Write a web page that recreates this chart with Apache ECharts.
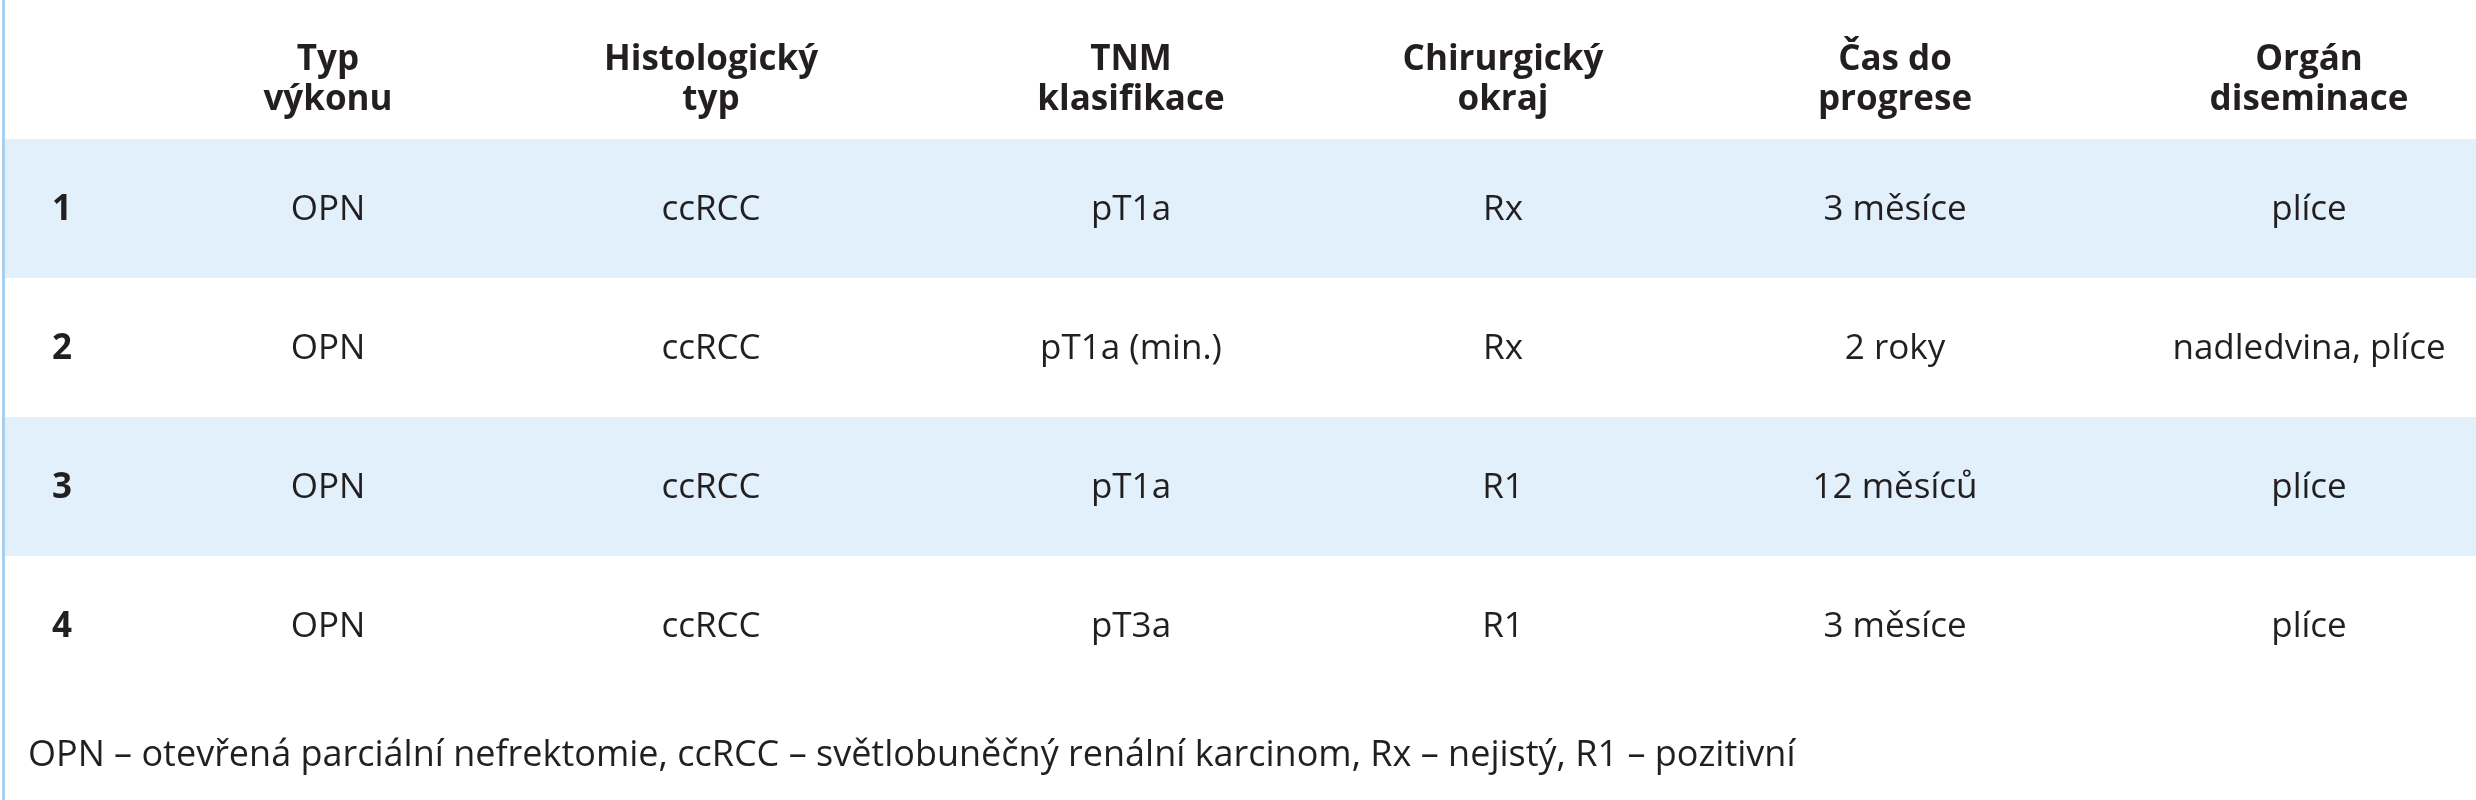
<!DOCTYPE html>
<html><head><meta charset="utf-8">
<script src="https://cdn.jsdelivr.net/npm/echarts@6/dist/echarts.min.js"></script>
<style>html,body{margin:0;padding:0;background:#fff}#c{width:2476px;height:800px}</style>
</head><body><div id="c"></div>
<script>
const headers = ["", "Typ\nvýkonu", "Histologický\ntyp", "TNM\nklasifikace", "Chirurgický\nokraj", "Čas do\nprogrese", "Orgán\ndiseminace"];
const rowIds = ["1", "2", "3", "4"];
const typVykonu = ["OPN", "OPN", "OPN", "OPN"];
const histTyp = ["ccRCC", "ccRCC", "ccRCC", "ccRCC"];
const tnm = ["pT1a", "pT1a (min.)", "pT1a", "pT3a"];
const okraj = ["Rx", "Rx", "R1", "R1"];
const casProgrese = ["3 měsíce", "2 roky", "12 měsíců", "3 měsíce"];
const organ = ["plíce", "nadledvina, plíce", "plíce", "plíce"];
const footnote = "OPN – otevřená parciální nefrektomie, ccRCC – světlobuněčný renální karcinom, Rx – nejistý, R1 – pozitivní";

const columns = [rowIds, typVykonu, histTyp, tnm, okraj, casProgrese, organ];
const colX = [52, 328, 711, 1131, 1503, 1895, 2309];
const rowTop = 139, rowH = 139;
const font = '"Open Sans", "Noto Sans", sans-serif';
const ink = '#231f20';

const g = [];
g.push({type:'rect', shape:{x:2, y:0, width:3, height:800}, style:{fill:'#a8d0ee'}});
rowIds.forEach((r,i)=>{
  if (i%2===0) g.push({type:'rect', shape:{x:5, y:rowTop+i*rowH, width:2471, height:rowH}, style:{fill:'#e1f0fb'}});
});
headers.forEach((h,j)=>{
  if(!h) return;
  g.push({type:'text', x:colX[j], y:80, style:{text:h, font:'bold 35px '+font, fill:ink, align:'center', verticalAlign:'middle', lineHeight:40}});
});
columns.forEach((col,j)=>{
  col.forEach((v,i)=>{
    g.push({type:'text', x:colX[j], y:rowTop+i*rowH+rowH/2+2,
      style:{text:v, font:(j===0?'bold ':'')+'35px '+font, fill:ink, align:j===0?'left':'center', verticalAlign:'middle'}});
  });
});
g.push({type:'text', x:28, y:756, style:{text:footnote, font:'36px '+font, fill:ink, align:'left', verticalAlign:'middle'}});

const chart = echarts.init(document.getElementById('c'));
chart.setOption({animation:false, graphic:{elements:g}});
</script></body></html>
